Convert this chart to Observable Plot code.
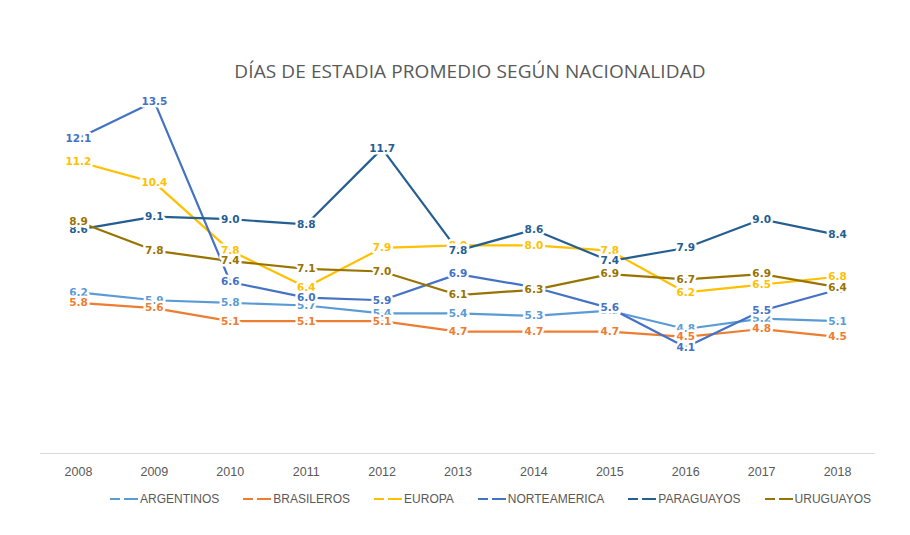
<!DOCTYPE html>
<html>
<head>
<meta charset="utf-8">
<script src="https://cdn.jsdelivr.net/npm/d3@7"></script>
<script src="https://cdn.jsdelivr.net/npm/@observablehq/plot@0.6"></script>
<style>
  html, body { margin: 0; padding: 0; background: #fff; width: 910px; height: 535px; overflow: hidden; }
  #title { position: absolute; left: 0; width: 940px; top: 58px; text-align: center;
    font-family: "Open Sans", "Liberation Sans", sans-serif; font-size: 19px; color: #595959; letter-spacing: 0.1px; }
  #chart { position: absolute; left: 0; top: 80px; }
  #legend { position: absolute; top: 492px; left: 108px; display: flex; gap: 0;
    font-family: "Liberation Sans Narrow", "Liberation Sans", sans-serif; font-size: 12px; color: #595959; }
  .item { display: flex; align-items: center; margin-right: 22px; }
  .item svg { margin-right: 2px; }
</style>
</head>
<body>
<div id="title">DÍAS DE ESTADIA PROMEDIO SEGÚN NACIONALIDAD</div>
<div id="chart"></div>
<div id="legend"></div>
<script>
const years = ["2008","2009","2010","2011","2012","2013","2014","2015","2016","2017","2018"];
const seriesNames = ["ARGENTINOS","BRASILEROS","EUROPA","NORTEAMERICA","PARAGUAYOS","URUGUAYOS"];
const colors = ["#5B9BD5","#ED7D31","#FFC000","#4472C4","#255E91","#997300"];
const argentinos   = [6.2, 5.9, 5.8, 5.7, 5.4, 5.4, 5.3, 5.5, 4.8, 5.2, 5.1];
const brasileros   = [5.8, 5.6, 5.1, 5.1, 5.1, 4.7, 4.7, 4.7, 4.5, 4.8, 4.5];
const europa       = [11.2, 10.4, 7.8, 6.4, 7.9, 8.0, 8.0, 7.8, 6.2, 6.5, 6.8];
const norteamerica = [12.1, 13.5, 6.6, 6.0, 5.9, 6.9, 6.4, 5.6, 4.1, 5.5, 6.3];
const paraguayos   = [8.6, 9.1, 9.0, 8.8, 11.7, 7.8, 8.6, 7.4, 7.9, 9.0, 8.4];
const uruguayos    = [8.9, 7.8, 7.4, 7.1, 7.0, 6.1, 6.3, 6.9, 6.7, 6.9, 6.4];

const values = [argentinos, brasileros, europa, norteamerica, paraguayos, uruguayos];
const data = [];
seriesNames.forEach((s, i) => years.forEach((y, j) => data.push({serie: s, year: y, value: values[i][j]})));

const lineMarks = seriesNames.map((s, i) =>
  Plot.line(data.filter(d => d.serie === s), {x: "year", y: "value", stroke: colors[i], strokeWidth: 2.2}));
const textMarks = seriesNames.map((s, i) =>
  Plot.text(data.filter(d => d.serie === s), {x: "year", y: "value", text: d => d.value.toFixed(1),
    fill: colors[i], stroke: "white", strokeWidth: 5, fontWeight: "bold", fontSize: 10.5,
    fontFamily: "DejaVu Sans, Verdana, sans-serif"}));

const chart = Plot.plot({
  width: 910,
  height: 400,
  marginLeft: 40,
  marginRight: 35,
  marginTop: 8,
  marginBottom: 26,
  x: {type: "point", domain: years, padding: 0.5, round: false, label: null},
  y: {domain: [0, 14], axis: null},
  style: {fontFamily: "Liberation Sans Narrow, Liberation Sans, sans-serif"},
  marks: [
    Plot.ruleY([0], {stroke: "#D9D9D9", strokeWidth: 1, dy: -1}),
    Plot.axisX({tickSize: 0, tickPadding: 13, fontSize: 12.5, color: "#595959"}),
    ...lineMarks,
    ...textMarks
  ]
});
document.getElementById("chart").appendChild(chart);

const legend = document.getElementById("legend");
seriesNames.forEach((s, i) => {
  const item = document.createElement("div");
  item.className = "item";
  item.innerHTML = `<svg width="30" height="10"><line x1="2" y1="5" x2="12" y2="5" stroke="${colors[i]}" stroke-width="2"/><line x1="16" y1="5" x2="30" y2="5" stroke="${colors[i]}" stroke-width="2"/></svg><span>${s}</span>`;
  legend.appendChild(item);
});
</script>
</body>
</html>
